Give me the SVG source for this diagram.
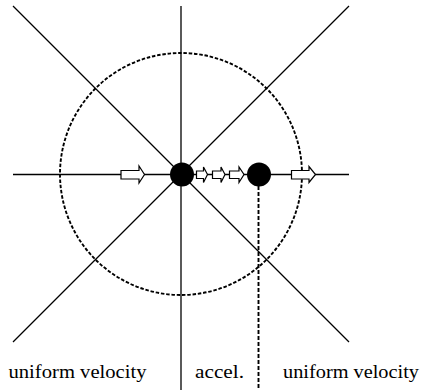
<svg xmlns="http://www.w3.org/2000/svg" width="421" height="390" viewBox="0 0 421 390">
<style>
.ln{stroke:#000;stroke-width:1.3;fill:none}
.dash{stroke:#000;stroke-width:1.9;fill:none;stroke-dasharray:3.5 1.8}
.arr{fill:#fff;stroke:#000;stroke-width:1.2;stroke-linejoin:miter}
.dot{fill:#000}
.lbl{font-family:"Liberation Serif","DejaVu Serif",serif;font-size:19px;fill:#000}
</style>
<rect width="421" height="390" fill="#fff"/>
<g id="connectors">
<line class="ln" x1="181" y1="6" x2="181" y2="390"/>
<line class="ln" x1="13" y1="6" x2="349" y2="342"/>
<line class="ln" x1="349" y1="6" x2="13" y2="342"/>
<line class="ln" x1="13" y1="174.5" x2="349" y2="174.5"/>
<circle class="dash" cx="181" cy="174" r="121"/>
<line class="dash" x1="258.5" y1="180" x2="258.5" y2="390" style="stroke-dasharray:4 2"/>
</g>
<g id="arrows">
<polygon class="arr" points="121,170.5 139,170.5 139,166 144.5,174.5 139,183 139,179 121,179"/>
<polygon class="arr" points="196.5,171 203.5,171 203.5,167 207.5,174.5 203.5,182.5 203.5,178.5 196.5,178.5"/>
<polygon class="arr" points="212.5,171 221,171 221,167 225,174.5 221,182.5 221,178.5 212.5,178.5"/>
<polygon class="arr" points="229.5,171 239,171 239,167 244,174.5 239,182.5 239,178.5 229.5,178.5"/>
<polygon class="arr" points="291.5,170.5 309,170.5 309,166.5 315.5,174.5 309,182.5 309,179 291.5,179"/>
</g>
<g id="dot1"><circle class="dot" cx="182" cy="174.5" r="12"/></g>
<g id="dot2"><circle class="dot" cx="259" cy="174.5" r="12"/></g>
<g id="labels">
<text class="lbl" x="8.5" y="377.5" textLength="138" lengthAdjust="spacingAndGlyphs">uniform velocity</text>
<text class="lbl" x="195" y="377.5" textLength="49" lengthAdjust="spacingAndGlyphs">accel.</text>
<text class="lbl" x="283" y="377.5" textLength="136" lengthAdjust="spacingAndGlyphs">uniform velocity</text>
</g>
</svg>
